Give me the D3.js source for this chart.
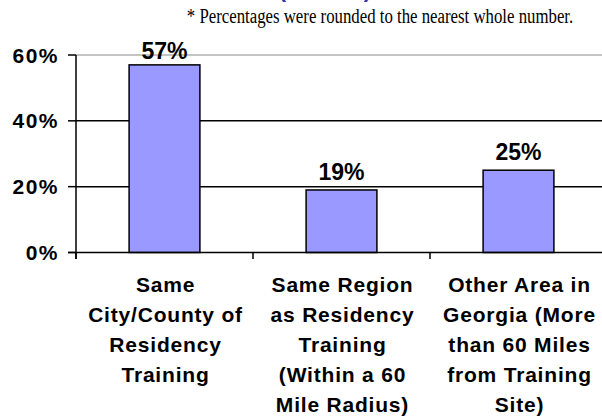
<html>
<head>
<meta charset="utf-8"/>
<script src="https://d3js.org/d3.v7.min.js"></script>
<style type="text/css">
body {
  margin: 0;
  overflow: hidden;
  background: #fff;
}
</style>
</head>
<body>
<div id="v"></div>
<script type="text/javascript">
var categories = [
  ["Same", "City/County of", "Residency", "Training"],
  ["Same Region", "as Residency", "Training", "(Within a 60", "Mile Radius)"],
  ["Other Area in", "Georgia (More", "than 60 Miles", "from Training", "Site)"]
];
var values = [57, 19, 25];
var yTicks = [0, 20, 40, 60];
var note = "* Percentages were rounded to the nearest whole number.";
var titleText = "(N = 120)";

var width = 602, height = 417;
var sans = "Liberation Sans, Arial, sans-serif";
var svg = d3.select("#v").append("svg")
  .attr("width", width)
  .attr("height", height);

var x = d3.scaleBand()
  .domain(d3.range(values.length))
  .range([76, 607])
  .paddingInner(0.6)
  .paddingOuter(0.3);

var y = d3.scaleLinear()
  .domain([0, 60])
  .range([252.5, 55]);

// cut-off title, only the bottom of the brackets shows
svg.append("text")
  .attr("x", 325)
  .attr("y", -3)
  .attr("text-anchor", "middle")
  .style("font-family", sans)
  .style("font-weight", "bold")
  .style("font-size", "22px")
  .attr("fill", "#3333aa")
  .text(titleText);

svg.append("text")
  .attr("transform", "translate(380,22.5) scale(1,1.3)")
  .attr("text-anchor", "middle")
  .style("font-family", "Liberation Serif, Times New Roman, serif")
  .style("font-size", "16.8px")
  .text(note);

// gridlines
svg.selectAll(".grid")
  .data(yTicks.filter(function(d) { return d > 0; }))
  .enter().append("line")
  .attr("class", "grid")
  .attr("x1", 76)
  .attr("x2", width)
  .attr("y1", function(d) { return y(d); })
  .attr("y2", function(d) { return y(d); })
  .attr("stroke", function(d) { return d == 60 ? "#c4c4c4" : "#000"; })
  .attr("stroke-width", function(d) { return d == 60 ? 2 : 1.5; });

// bars
svg.selectAll(".bar")
  .data(values).enter()
  .append("rect")
  .attr("class", "bar")
  .attr("x", function(d, i) { return x(i); })
  .attr("y", function(d) { return y(d); })
  .attr("width", x.bandwidth())
  .attr("height", function(d) { return y(0) - y(d); })
  .attr("fill", "#9999ff")
  .attr("stroke", "#000")
  .attr("stroke-width", 1.5);

svg.selectAll(".val")
  .data(values).enter()
  .append("text")
  .attr("class", "val")
  .attr("x", function(d, i) { return x(i) + x.bandwidth() / 2; })
  .attr("y", function(d) { return Math.max(y(d) - 10, 58.5); })
  .attr("text-anchor", "middle")
  .style("font-family", sans)
  .style("font-weight", "bold")
  .style("font-size", "23px")
  .text(function(d) { return d + "%"; });

// y axis
svg.append("line")
  .attr("x1", 76).attr("x2", 76)
  .attr("y1", y(60)).attr("y2", y(0) + 6.5)
  .attr("stroke", "#000").attr("stroke-width", 1.5);

svg.selectAll(".ytickmark")
  .data(yTicks).enter()
  .append("line")
  .attr("class", "ytickmark")
  .attr("x1", 68).attr("x2", 76)
  .attr("y1", function(d) { return y(d); })
  .attr("y2", function(d) { return y(d); })
  .attr("stroke", "#000").attr("stroke-width", 1.5);

svg.selectAll(".ytick")
  .data(yTicks).enter()
  .append("text")
  .attr("class", "ytick")
  .attr("x", 59)
  .attr("y", function(d) { return y(d) + 7.5; })
  .attr("text-anchor", "end")
  .style("font-family", sans)
  .style("font-weight", "bold")
  .style("font-size", "21px")
  .style("letter-spacing", "1.5px")
  .text(function(d) { return d + "%"; });

// x axis
svg.append("line")
  .attr("x1", 68).attr("x2", width)
  .attr("y1", y(0)).attr("y2", y(0))
  .attr("stroke", "#000").attr("stroke-width", 1.5);

var step = x.step();
svg.selectAll(".xtick")
  .data(d3.range(values.length)).enter()
  .append("line")
  .attr("class", "xtick")
  .attr("x1", function(i) { return x.range()[0] + i * step; })
  .attr("x2", function(i) { return x.range()[0] + i * step; })
  .attr("y1", y(0))
  .attr("y2", y(0) + 6.5)
  .attr("stroke", "#000").attr("stroke-width", 1.5);

var cat = svg.selectAll(".cat")
  .data(categories).enter()
  .append("text")
  .attr("class", "cat")
  .attr("text-anchor", "middle")
  .style("font-family", sans)
  .style("font-weight", "bold")
  .style("font-size", "21px")
  .style("letter-spacing", "0.8px");

cat.selectAll("tspan")
  .data(function(d, i) { return d.map(function(s) { return {s: s, i: i}; }); })
  .enter().append("tspan")
  .attr("x", function(d) { return x(d.i) + x.bandwidth() / 2 + 1; })
  .attr("y", function(d, j) { return 292 + j * 30; })
  .text(function(d) { return d.s; });
</script>
</body>
</html>
